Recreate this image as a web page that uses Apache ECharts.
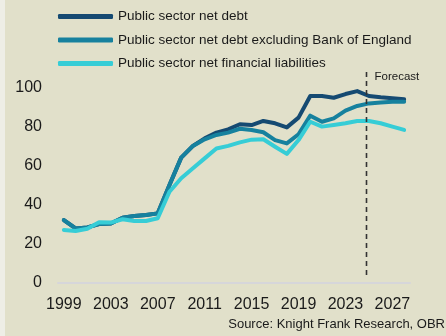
<!DOCTYPE html>
<html>
<head>
<meta charset="utf-8">
<script src="https://cdn.jsdelivr.net/npm/echarts@6/dist/echarts.min.js"></script>
<style>
html,body{margin:0;padding:0;background:#e1e0ca;}
#c{width:446px;height:336px;}
</style>
</head>
<body>
<div id="c"></div>
<script>
const years = [1999,2000,2001,2002,2003,2004,2005,2006,2007,2008,2009,2010,2011,2012,2013,2014,2015,2016,2017,2018,2019,2020,2021,2022,2023,2024,2025,2026,2027,2028];
const netDebt = [32.3,28,28.5,30.2,30.5,33.5,34.4,34.9,35.7,50.3,64.3,70.3,74.2,77.1,78.8,81.4,81,83.1,81.9,79.8,84.8,95.9,95.9,95,96.9,98.4,95.9,95.2,94.7,94.2];
const netDebtExBoE = [32.3,28,28.5,30.2,30.5,33.5,34.4,34.9,35.7,50.3,64.3,70.3,73.7,75.9,77.1,79.1,78.5,77.3,73.3,71.6,76.3,85.8,82.7,84.4,88.4,90.8,92.1,92.6,93,93];
const netFinLiab = [27.2,26.7,27.8,31.1,31,32.7,31.8,31.8,33.2,46.8,53.7,58.8,63.9,69,70.3,72.1,73.5,73.7,69.9,66.2,73.3,82.7,80.2,81,81.9,83.1,83.1,81.9,80.2,78.5];
const seriesNames = ['Public sector net debt','Public sector net debt excluding Bank of England','Public sector net financial liabilities'];
const xTickLabels = [1999,2003,2007,2011,2015,2019,2023,2027];
const yTicks = [0,20,40,60,80,100];
const forecastStart = 2024.75;
const forecastLabel = 'Forecast';
const sourceText = 'Source: Knight Frank Research, OBR';

const colors = ['#154a72','#16819e','#36cdd6'];
const font = '"Liberation Sans", Arial, sans-serif';
const pair = arr => years.map((y,i)=>[y,arr[i]]);

const chart = echarts.init(document.getElementById('c'), null, {renderer:'canvas'});
const mkSeries = (name, arr, idx) => ({
  name, type:'line', data: pair(arr), showSymbol:false, symbol:'none',
  lineStyle:{width:4, color:colors[idx], cap:'round', join:'round'},
  itemStyle:{color:colors[idx]},
  emphasis:{disabled:true}, silent:true, animation:false, z: 2+idx
});
chart.setOption({
  backgroundColor:'#e1e0ca',
  animation:false,
  textStyle:{fontFamily:font},
  color:colors,
  grid:{left:58, right:36, top:88, bottom:53, containLabel:false},
  legend:{
    orient:'vertical', left:53, top:4.5, itemWidth:55, itemHeight:5, itemGap:9.5,
    icon:'roundRect',
    textStyle:{fontSize:13.5, color:'#1a1a1a', fontFamily:font, lineHeight:14},
    data:seriesNames, selectedMode:false
  },
  xAxis:{
    type:'value', min:1998.5, max:2028.5,
    axisLine:{show:true, lineStyle:{color:'#d6d6da', width:2}},
    axisTick:{show:false}, splitLine:{show:false},
    axisLabel:{customValues:xTickLabels, fontSize:16, color:'#1a1a1a', margin:14, fontFamily:font, formatter:v=>String(v)}
  },
  yAxis:{
    type:'value', min:0, max:100, interval:20,
    axisLine:{show:false}, axisTick:{show:false}, splitLine:{show:false},
    axisLabel:{customValues:yTicks, fontSize:16, color:'#1a1a1a', margin:16, fontFamily:font}
  },
  series:[mkSeries(seriesNames[0], netDebt, 0), mkSeries(seriesNames[1], netDebtExBoE, 1), mkSeries(seriesNames[2], netFinLiab, 2)]
});
const px = Math.round(chart.convertToPixel({xAxisIndex:0}, forecastStart)) + 0.5;
chart.setOption({graphic:[
  {type:'rect', left:0, top:0, shape:{width:5, height:336}, style:{fill:'#eeeee6'}, z:-1},
  {type:'text', right:1, top:318, style:{text:sourceText, fontSize:13, fill:'#1a1a1a', fontFamily:font}},
  {type:'line', shape:{x1:px, y1:72, x2:px, y2:278}, style:{stroke:'#333333', lineWidth:1.6, lineDash:[5,4]}, z:10},
  {type:'text', x:px+8, y:71, style:{text:forecastLabel, fontSize:11.5, fill:'#1a1a1a', fontFamily:font}}
]});
</script>
</body>
</html>
